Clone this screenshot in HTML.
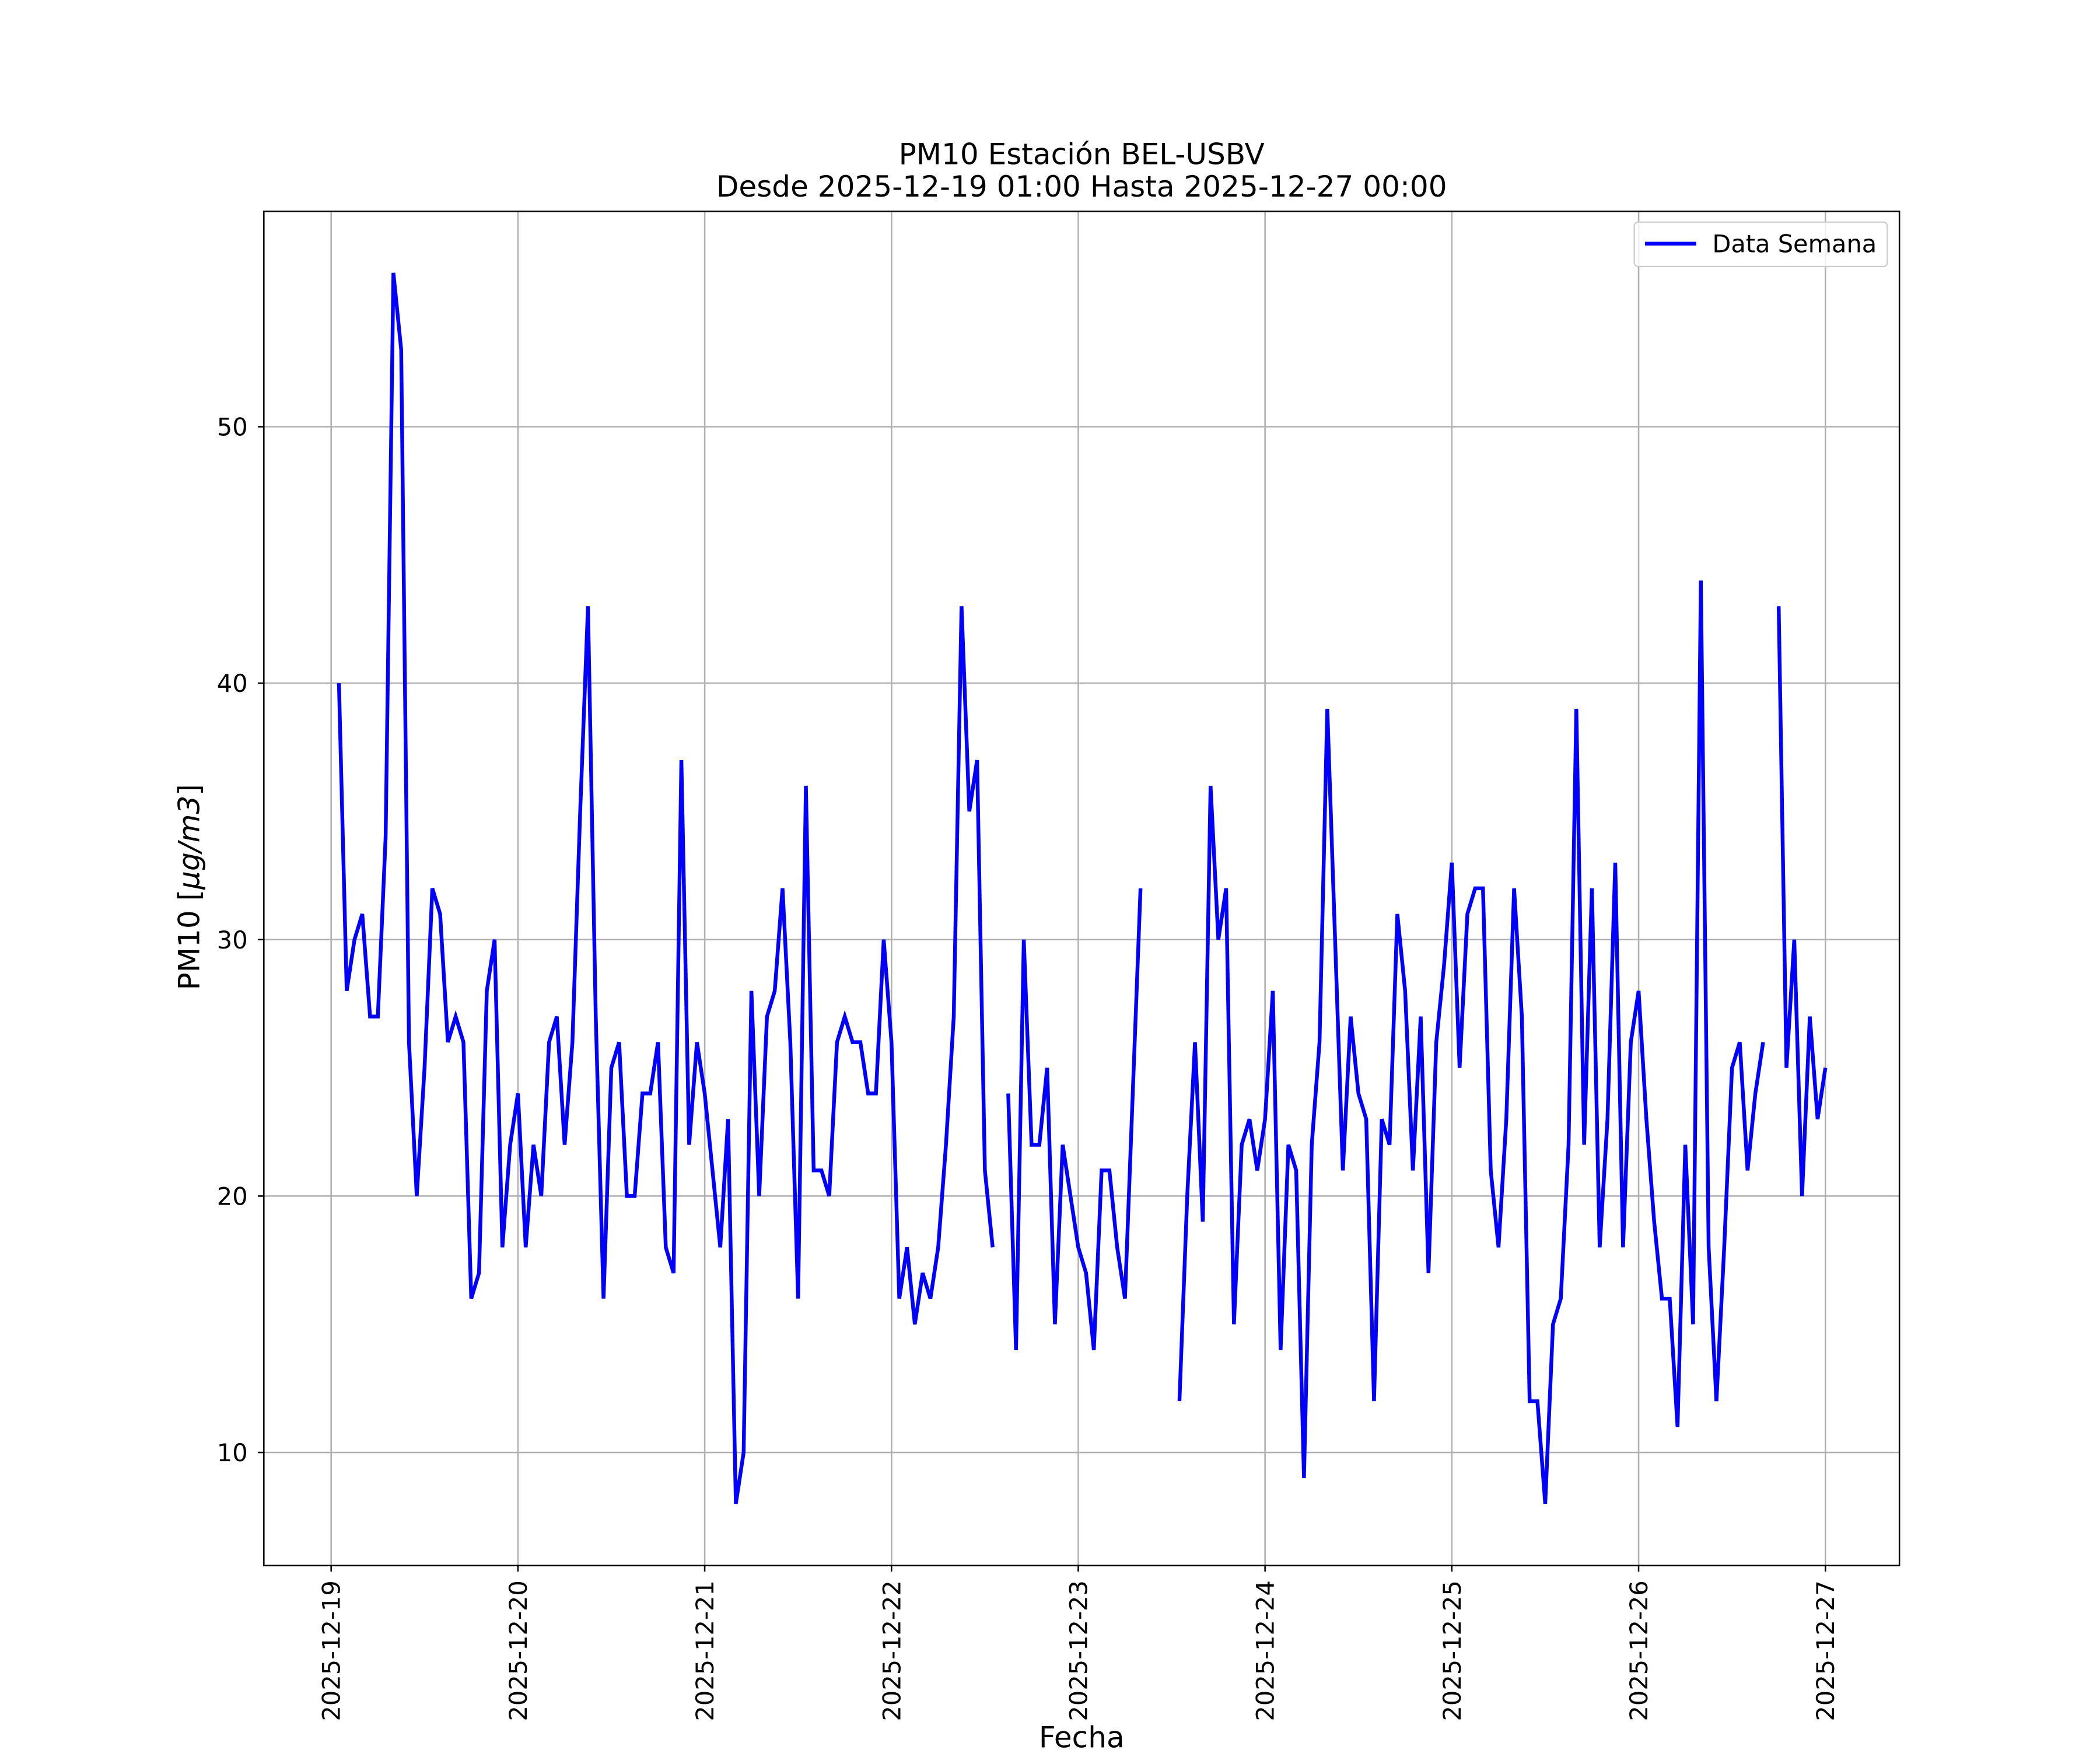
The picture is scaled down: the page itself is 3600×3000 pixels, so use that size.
<!DOCTYPE html>
<html><head><meta charset="utf-8"><style>
html,body{margin:0;padding:0;background:#fff}
svg{display:block}
text{font-family:"DejaVu Sans","Liberation Sans",sans-serif;fill:#000}
</style></head><body>
<svg id="chart" width="3600" height="3000" viewBox="0 0 1560 1300" xmlns="http://www.w3.org/2000/svg">
<rect width="1560" height="1300" fill="#fff"/>
<g id="grid"></g>
<g id="series"></g>
<rect x="196" y="157" width="1215" height="1006" fill="none" stroke="#000" stroke-width="1.1"/>
<g id="ticks"></g>
<text x="803.5" y="122" font-size="21.7" text-anchor="middle">PM10 Estación BEL-USBV</text>
<text x="803.5" y="146" font-size="21.7" text-anchor="middle">Desde 2025-12-19 01:00 Hasta 2025-12-27 00:00</text>
<text x="803.5" y="1298" font-size="21.7" text-anchor="middle">Fecha</text>
<text transform="translate(148,659) rotate(-90)" font-size="21.7" text-anchor="middle">PM10 [<tspan font-style="italic">μg/m3</tspan>]</text>
<g>
<rect x="1214" y="165" width="188" height="33" rx="3" fill="#fff" fill-opacity="0.8" stroke="#ccc" stroke-width="1"/>
<line x1="1222" y1="181" x2="1260" y2="181" stroke="#0000ff" stroke-width="2.8"/>
<text x="1272" y="187.5" font-size="18">Data Semana</text>
</g>
</svg>
<script>
const dayLabels = ["2025-12-19","2025-12-20","2025-12-21","2025-12-22","2025-12-23","2025-12-24","2025-12-25","2025-12-26","2025-12-27"];
const yTicks = [10,20,30,40,50];
const day19 = [40,28,30,31,27,27,34,56,53,26,20,25,32,31,26,27,26,16,17,28,30,18,22,24];
const day20 = [18,22,20,26,27,22,26,35,43,27,16,25,26,20,20,24,24,26,18,17,37,22,26,24];
const day21 = [21,18,23,8,10,28,20,27,28,32,26,16,36,21,21,20,26,27,26,26,24,24,30,26];
const day22 = [16,18,15,17,16,18,22,27,43,35,37,21,18,null,24,14,30,22,22,25,15,22,20,18];
const day23 = [17,14,21,21,18,16,24,32,null,null,null,null,12,20,26,19,36,30,32,15,22,23,21,23];
const day24 = [28,14,22,21,9,22,26,39,30,21,27,24,23,12,23,22,31,28,21,27,17,26,29,33];
const day25 = [25,31,32,32,21,18,23,32,27,12,12,8,15,16,22,39,22,32,18,23,33,18,26,28];
const day26 = [23,19,16,16,11,22,15,44,18,12,18,25,26,21,24,26,null,43,25,30,20,27,23,25];
const values = [].concat(day19,day20,day21,day22,day23,day24,day25,day26);

const NS="http://www.w3.org/2000/svg";
function xScale(hours){return 246 + hours*138.75/24;}
function yScale(v){return 1079 - (v-10)*19.05;}
function mk(tag,attrs,parent){const e=document.createElementNS(NS,tag);for(const k in attrs)e.setAttribute(k,attrs[k]);parent.appendChild(e);return e;}
const grid=document.getElementById('grid'), ticks=document.getElementById('ticks'), series=document.getElementById('series');

dayLabels.forEach((d,i)=>{
  const x=xScale(i*24);
  const g=mk('line',{x1:x,y1:157,x2:x,y2:1163,stroke:'#b0b0b0','stroke-width':1.1},grid);
  
  
  const t=mk('line',{x1:x,y1:1163,x2:x,y2:1167.5,stroke:'#000','stroke-width':1.1},ticks);
  
  
  const l=mk('text',{transform:`translate(${x+6.5},1174) rotate(-90)`,'font-size':18,'text-anchor':'end'},ticks);
  l.textContent=d;
  
  
});
yTicks.forEach(v=>{
  const y=yScale(v);
  const g=mk('line',{x1:196,y1:y,x2:1411,y2:y,stroke:'#b0b0b0','stroke-width':1.1},grid);
  
  
  const t=mk('line',{x1:191.5,y1:y,x2:196,y2:y,stroke:'#000','stroke-width':1.1},ticks);
  
  
  const l=mk('text',{x:184,y:y+6.5,'font-size':18,'text-anchor':'end'},ticks);
  l.textContent=v;
  
  
});
let d='', pen=false;
values.forEach((v,i)=>{
  if(v===null){pen=false;return;}
  const x=xScale(i+1), y=yScale(v);
  d += (pen?'L':'M')+x.toFixed(2)+' '+y.toFixed(2)+' ';
  pen=true;
});
const p=mk('path',{d:d,fill:'none',stroke:'#0000ff','stroke-width':2.8,'stroke-linejoin':'miter','stroke-linecap':'butt'},series);


</script>
</body></html>
